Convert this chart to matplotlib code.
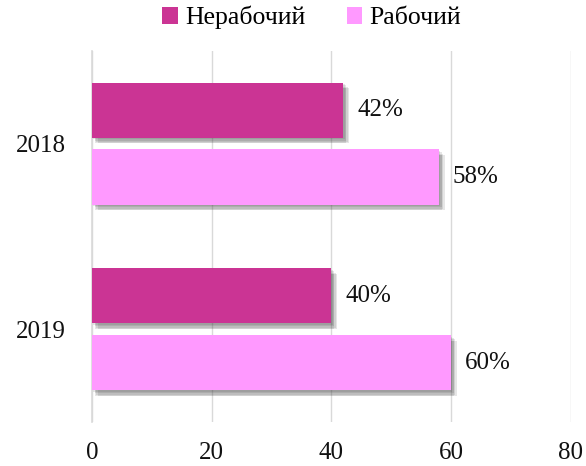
import matplotlib
matplotlib.use("Agg")
import matplotlib.pyplot as plt
import matplotlib.patheffects as pe
from matplotlib.patches import Patch
import numpy as np

# data
years = ["2018", "2019"]
nonwork = [42, 40]   # Нерабочий
work = [58, 60]      # Рабочий
series_names = ["Нерабочий", "Рабочий"]
colors = ["#CB3494", "#FF99FF"]

plt.rcParams['font.family'] = ['Liberation Serif', 'DejaVu Serif']

fig = plt.figure(figsize=(5.86, 4.66), dpi=100)
ax = fig.add_axes([0.157, 0.094, 0.817, 0.797])

y = np.arange(len(years)) + 0.5
h = 0.297
off = 0.18
# soft drop shadow built from a few faint offset copies
shadow = [pe.SimplePatchShadow(offset=o, shadow_rgbFace='#404040', alpha=0.13)
          for o in [(1, -1), (2, -2), (3, -3), (2, -4), (4, -4)]] + [pe.Normal()]

b1 = ax.barh(y - off, nonwork, height=h, color=colors[0], zorder=3)
b2 = ax.barh(y + off, work, height=h, color=colors[1], zorder=3)
for bars in (b1, b2):
    for p in bars:
        p.set_path_effects(shadow)

for bars, vals in ((b1, nonwork), (b2, work)):
    for p, v in zip(bars, vals):
        ax.text(v + 2.3, p.get_y() + p.get_height() / 2, f"{v}%",
                va='center', ha='left', fontsize=18, color='#111111')

ax.set_xlim(0, 80)
ax.set_ylim(2, 0)
ax.set_xticks([0, 20, 40, 60, 80])
ax.set_yticks(y)
ax.set_yticklabels(years)
ax.tick_params(axis='both', length=0, labelsize=18, colors='#111111')
ax.tick_params(axis='x', pad=14)
ax.tick_params(axis='y', pad=19)
ax.grid(axis='x', color='#D9D9D9', linewidth=1, zorder=0)
for s in ['top', 'right', 'bottom']:
    ax.spines[s].set_visible(False)
ax.spines['left'].set_color('#D9D9D9')
ax.spines['left'].set_linewidth(1.2)

handles = [Patch(facecolor=c) for c in colors]
fig.legend(handles=handles, labels=series_names, loc='center',
           bbox_to_anchor=(0.532, 0.962), ncol=2, frameon=False,
           fontsize=18.5, handlelength=0.6, handleheight=0.6,
           handletextpad=0.3, columnspacing=1.6)

fig.savefig("out.png", dpi=100)
